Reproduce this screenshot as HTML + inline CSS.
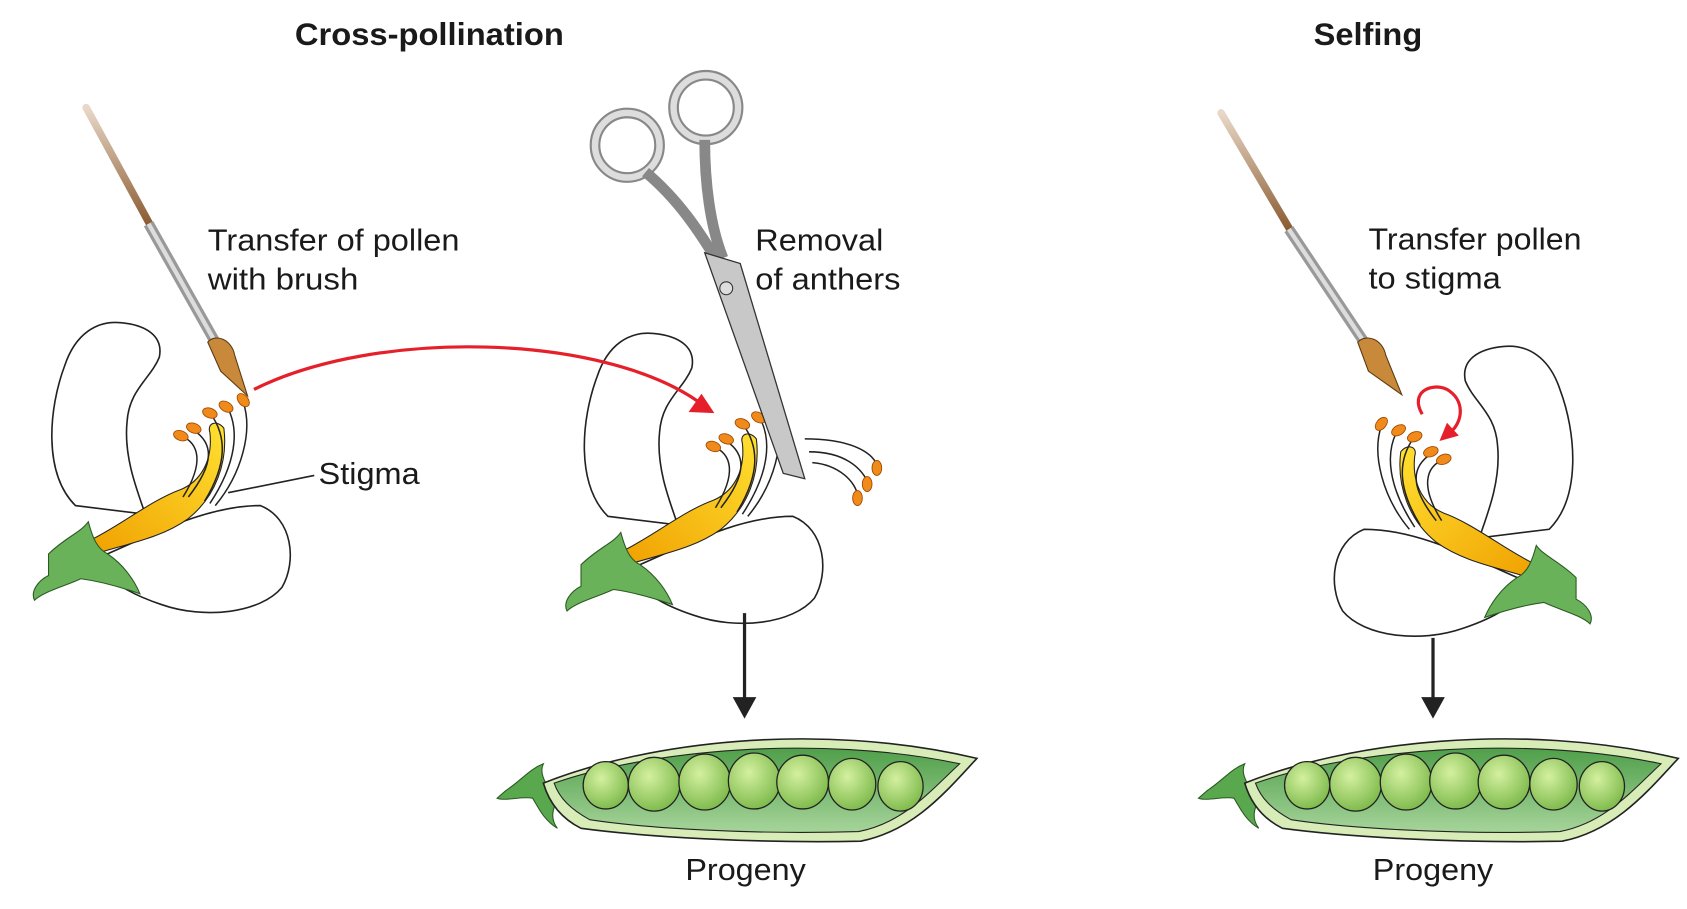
<!DOCTYPE html>
<html><head><meta charset="utf-8"><style>
html,body{margin:0;padding:0;background:#fff;}
svg{display:block;}
text{font-family:"Liberation Sans",Arial,sans-serif;fill:#1a1a1a;}
</style></head><body>
<svg width="1687" height="909" viewBox="0 0 1568 845">
<defs>
<linearGradient id="gy" x1="0" y1="1" x2="1" y2="0"><stop offset="0" stop-color="#f0a000"/><stop offset="1" stop-color="#ffe030"/></linearGradient>
<linearGradient id="gp" x1="0" y1="0" x2="0" y2="1"><stop offset="0" stop-color="#4f9f4a"/><stop offset="1" stop-color="#a6d49a"/></linearGradient>
<radialGradient id="gpea" cx="0.4" cy="0.35" r="0.7"><stop offset="0" stop-color="#d4f0a0"/><stop offset="1" stop-color="#7ab848"/></radialGradient>
<linearGradient id="gb" x1="0" y1="0" x2="0" y2="1"><stop offset="0" stop-color="#e8d8c8"/><stop offset="1" stop-color="#8a5a30"/></linearGradient>
<g id="flower">
  <path d="M70,470 C40,440 45,380 60,340 C70,310 90,298 112,300 C135,302 152,312 148,332 C140,352 120,362 118,392 C115,422 125,450 135,478 Z" fill="#fff" stroke="#222" stroke-width="1.5"/>
  <path d="M88,520 C140,498 190,470 242,470 C272,482 276,522 262,546 C242,570 190,576 150,562 C120,552 100,540 88,520 Z" fill="#fff" stroke="#222" stroke-width="1.5"/>
  <path d="M88,515 C120,505 150,500 175,482 C200,462 212,430 208,398 C202,390 192,393 195,402 C198,430 185,448 168,455 C140,465 110,490 82,503 Z" fill="url(#gy)" stroke="#222" stroke-width="1"/>
  <g fill="none" stroke="#222" stroke-width="1.4">
    <path d="M200,470 C225,440 235,400 226,374"/><path d="M195,468 C220,430 222,400 212,380"/><path d="M190,466 C212,430 210,405 196,385"/><path d="M175,462 C200,430 198,412 180,400"/><path d="M170,462 C190,430 185,412 168,405"/>
  </g>
  <g fill="#f08a1a" stroke="#a04a00" stroke-width="0.8">
    <ellipse cx="226" cy="372" rx="7" ry="4.5" transform="rotate(50 226 372)"/><ellipse cx="210" cy="378" rx="7" ry="4.5" transform="rotate(30 210 378)"/><ellipse cx="195" cy="384" rx="7" ry="4.5" transform="rotate(20 195 384)"/><ellipse cx="180" cy="398" rx="7" ry="4.5" transform="rotate(20 180 398)"/><ellipse cx="168" cy="405" rx="7" ry="4.5" transform="rotate(20 168 405)"/>
  </g>
  <path d="M45,515 C60,500 75,495 82,485 C86,500 90,510 100,515 C115,525 125,540 130,552 C110,545 90,540 75,538 C60,545 40,550 32,558 C28,550 35,540 45,535 Z" fill="#6ab25a" stroke="#2a5a22" stroke-width="1"/>
</g>
<g id="pod">
  <path d="M470,735 C485,725 492,715 505,710 C500,720 510,735 520,742 C512,752 512,762 518,770 C505,762 500,750 495,742 C485,740 470,745 462,742 Z" fill="#5aa84e" stroke="#2a5a22" stroke-width="1"/>
  <path d="M505,728 C600,690 760,670 908,705 C880,735 850,772 800,782 C700,784 600,778 540,770 C520,760 510,745 505,728 Z" fill="#d8ecb8" stroke="#222" stroke-width="1.5"/>
  <path d="M515,728 C600,698 760,682 892,710 C865,735 840,765 798,773 C700,776 600,770 548,762 C530,752 520,742 515,728 Z" fill="url(#gp)" stroke="#222" stroke-width="1"/>
  <g fill="url(#gpea)" stroke="#222" stroke-width="1.2">
    <ellipse cx="563" cy="730" rx="21" ry="22"/><ellipse cx="608" cy="729" rx="24" ry="25"/><ellipse cx="655" cy="727" rx="24" ry="26"/><ellipse cx="701" cy="726" rx="24" ry="26"/><ellipse cx="746" cy="727" rx="24" ry="25"/><ellipse cx="792" cy="729" rx="22" ry="24"/><ellipse cx="837" cy="731" rx="21" ry="23"/>
  </g>
</g>
</defs>

<text x="274" y="42" font-size="29" font-weight="bold" textLength="250" lengthAdjust="spacingAndGlyphs">Cross-pollination</text>
<text x="1221" y="42" font-size="29" font-weight="bold" textLength="101" lengthAdjust="spacingAndGlyphs">Selfing</text>

<g>
  <path d="M80,100 L140,210" stroke="url(#gb)" stroke-width="7" stroke-linecap="round"/>
  <path d="M138,208 L200,318" stroke="#999" stroke-width="10"/><path d="M138,208 L200,318" stroke="#ddd" stroke-width="4"/>
  <path d="M193,318 C200,310 215,315 218,330 L230,368 L205,345 Z" fill="#c88a3a" stroke="#5a3a10" stroke-width="1"/>
</g>
<use href="#flower"/>
<path d="M212,458 L292,442" stroke="#222" stroke-width="1.5"/>
<text x="296" y="450" font-size="28" textLength="94" lengthAdjust="spacingAndGlyphs">Stigma</text>
<text font-size="28"><tspan x="193" y="233" textLength="234" lengthAdjust="spacingAndGlyphs">Transfer of pollen</tspan><tspan x="193" y="269" textLength="140" lengthAdjust="spacingAndGlyphs">with brush</tspan></text>

<g><use href="#flower" transform="translate(495,10)"/></g>
<g fill="none">
  <circle cx="583" cy="135" r="30" stroke="#888" stroke-width="10"/><circle cx="583" cy="135" r="30" stroke="#ddd" stroke-width="6"/>
  <circle cx="656" cy="100" r="30" stroke="#888" stroke-width="10"/><circle cx="656" cy="100" r="30" stroke="#ddd" stroke-width="6"/>
  <path d="M600,160 C630,185 650,215 668,245" stroke="#888" stroke-width="10"/><path d="M655,130 C655,170 660,210 672,240" stroke="#888" stroke-width="10"/>
  <path d="M655,235 L688,245 L748,445 L728,440 Z" fill="#c8c8c8" stroke="#333" stroke-width="1.2"/>
  <circle cx="675" cy="268" r="6" fill="#ddd" stroke="#333"/>
  <path d="M748,408 C790,408 810,420 815,432 M752,420 C785,420 800,435 806,447 M755,430 C780,432 795,448 797,460" stroke="#222" stroke-width="1.4"/>
  <g fill="#f08a1a" stroke="#a04a00" stroke-width="0.8"><ellipse cx="815" cy="435" rx="4.5" ry="7"/><ellipse cx="806" cy="450" rx="4.5" ry="7"/><ellipse cx="797" cy="463" rx="4.5" ry="7"/></g>
</g>
<text font-size="28"><tspan x="702" y="233" textLength="119" lengthAdjust="spacingAndGlyphs">Removal</tspan><tspan x="702" y="269" textLength="135" lengthAdjust="spacingAndGlyphs">of anthers</tspan></text>
<g><path d="M236,362 C350,305 560,310 650,374" fill="none" stroke="#e5202a" stroke-width="3"/><path d="M664,384 L640,383 L652,366 Z" fill="#e5202a"/></g>

<g><path d="M692,570 L692,652" stroke="#222" stroke-width="3"/><path d="M681,648 L692,668 L703,648 Z" fill="#222"/></g>
<g><use href="#pod"/></g>
<text x="637" y="818" font-size="28" textLength="112" lengthAdjust="spacingAndGlyphs">Progeny</text>

<g>
  <path d="M1135,105 L1200,215" stroke="url(#gb)" stroke-width="7" stroke-linecap="round"/>
  <path d="M1198,213 L1268,318" stroke="#999" stroke-width="10"/><path d="M1198,213 L1268,318" stroke="#ddd" stroke-width="4"/>
  <path d="M1262,318 C1270,310 1285,315 1288,330 L1303,367 L1272,345 Z" fill="#c88a3a" stroke="#5a3a10" stroke-width="1"/>
</g>
<g><use href="#flower" transform="translate(1510,22) scale(-1,1)"/></g>
<g><path d="M1322,385 C1310,365 1330,355 1345,362 C1362,372 1360,392 1348,402" fill="none" stroke="#e5202a" stroke-width="3"/><path d="M1338,410 L1345,393 L1356,405 Z" fill="#e5202a"/></g>
<text font-size="28"><tspan x="1272" y="232" textLength="198" lengthAdjust="spacingAndGlyphs">Transfer pollen</tspan><tspan x="1272" y="268" textLength="123" lengthAdjust="spacingAndGlyphs">to stigma</tspan></text>
<g><path d="M1332,593 L1332,652" stroke="#222" stroke-width="3"/><path d="M1321,648 L1332,668 L1343,648 Z" fill="#222"/></g>
<g><use href="#pod" transform="translate(652,0)"/></g>
<text x="1276" y="818" font-size="28" textLength="112" lengthAdjust="spacingAndGlyphs">Progeny</text>
</svg>
</body></html>
